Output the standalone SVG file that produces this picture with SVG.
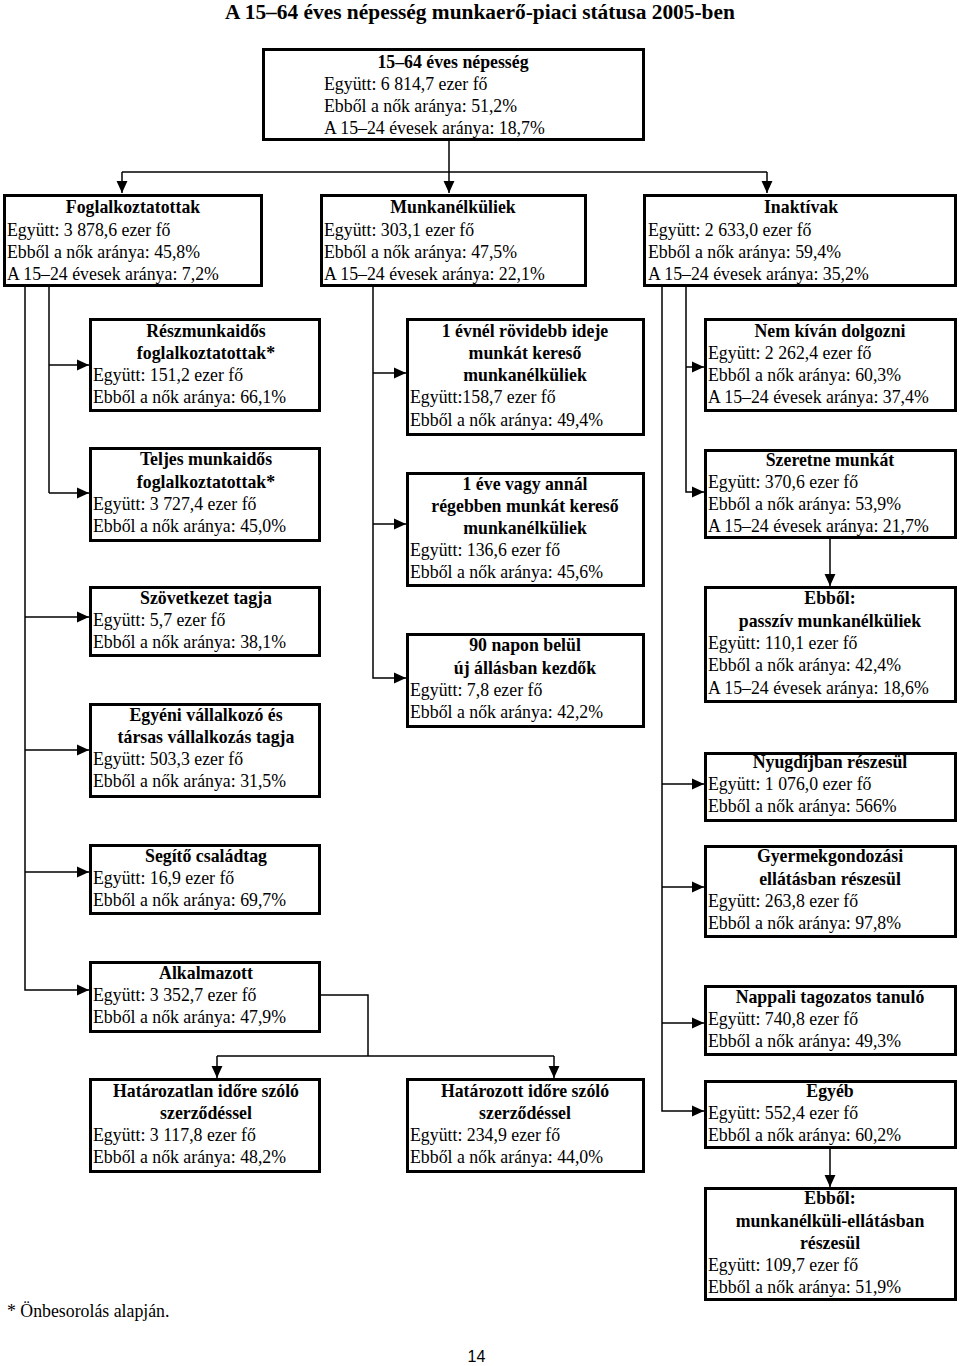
<svg xmlns="http://www.w3.org/2000/svg" width="960" height="1366" viewBox="0 0 960 1366">
<style>
.bg{fill:#fff}
.box{fill:#fff;stroke:#000;stroke-width:3}
text{font-family:"Liberation Serif","Times New Roman",serif;font-size:17.8px;fill:#000}
.h{font-weight:bold;text-anchor:middle}
.title{font-weight:bold;font-size:21.4px;text-anchor:middle}
.pg{font-family:"Liberation Sans",Arial,sans-serif;font-size:16px;text-anchor:middle}
#connectors path{fill:none;stroke:#000;stroke-width:1.5}
#connectors path.a{marker-end:url(#arr)}
</style>
<defs>
<marker id="arr" markerUnits="userSpaceOnUse" markerWidth="12" markerHeight="12" refX="11" refY="5" orient="auto" viewBox="0 0 11 10">
<path d="M0,0 L11,5 L0,10 z" fill="#000"/>
</marker>
</defs>
<rect class="bg" x="0" y="0" width="960" height="1366"/>
<text class="title" x="480" y="19">A 15–64 éves népesség munkaerő-piaci státusa 2005-ben</text>

<g id="connectors">
<path class="a" d="M449,141 V193"/>
<path d="M122,172 H767"/>
<path class="a" d="M122,172 V193"/>
<path class="a" d="M767,172 V193"/>
<path d="M49,287 V493"/>
<path class="a" d="M49,365 H89"/>
<path class="a" d="M49,493 H89"/>
<path class="a" d="M25,287 V990 H89"/>
<path class="a" d="M25,617 H89"/>
<path class="a" d="M25,750 H89"/>
<path class="a" d="M25,872 H89"/>
<path d="M321,995 H368 V1056"/>
<path d="M217,1056 H554"/>
<path class="a" d="M217,1056 V1078"/>
<path class="a" d="M554,1056 V1078"/>
<path class="a" d="M373,287 V678 H406"/>
<path class="a" d="M373,373 H406"/>
<path class="a" d="M373,524 H406"/>
<path class="a" d="M686,287 V492 H704"/>
<path class="a" d="M686,367 H704"/>
<path class="a" d="M662,287 V1111 H704"/>
<path class="a" d="M662,784 H704"/>
<path class="a" d="M662,887 H704"/>
<path class="a" d="M662,1023 H704"/>
<path class="a" d="M830,539 V586"/>
<path class="a" d="M830,1149 V1187"/>
</g>

<g id="n-nepesseg">
<rect class="box" x="263.5" y="49.5" width="380" height="90"/>
<text class="h" x="453" y="68">15–64 éves népesség</text>
<text x="324" y="90">Együtt: 6 814,7 ezer fő</text>
<text x="324" y="112">Ebből a nők aránya: 51,2%</text>
<text x="324" y="134">A 15–24 évesek aránya: 18,7%</text>
</g>

<g id="n-foglalkoztatottak">
<rect class="box" x="4.5" y="195.5" width="257" height="90"/>
<text class="h" x="133" y="213">Foglalkoztatottak</text>
<text x="7" y="236">Együtt: 3 878,6 ezer fő</text>
<text x="7" y="258">Ebből a nők aránya: 45,8%</text>
<text x="7" y="280">A 15–24 évesek aránya: 7,2%</text>
</g>

<g id="n-munkanelkuliek">
<rect class="box" x="321.5" y="195.5" width="264" height="90"/>
<text class="h" x="453" y="213">Munkanélküliek</text>
<text x="324" y="236">Együtt: 303,1 ezer fő</text>
<text x="324" y="258">Ebből a nők aránya: 47,5%</text>
<text x="324" y="280">A 15–24 évesek aránya: 22,1%</text>
</g>

<g id="n-inaktivak">
<rect class="box" x="644.5" y="195.5" width="311" height="90"/>
<text class="h" x="801" y="213">Inaktívak</text>
<text x="648" y="236">Együtt: 2 633,0 ezer fő</text>
<text x="648" y="258">Ebből a nők aránya: 59,4%</text>
<text x="648" y="280">A 15–24 évesek aránya: 35,2%</text>
</g>

<g id="n-reszmunkaidos">
<rect class="box" x="90.5" y="319.5" width="229" height="91"/>
<text class="h" x="206" y="337">Részmunkaidős</text>
<text class="h" x="206" y="359">foglalkoztatottak*</text>
<text x="93" y="381">Együtt: 151,2 ezer fő</text>
<text x="93" y="403">Ebből a nők aránya: 66,1%</text>
</g>

<g id="n-teljes">
<rect class="box" x="90.5" y="448.5" width="229" height="92"/>
<text class="h" x="206" y="465">Teljes munkaidős</text>
<text class="h" x="206" y="488">foglalkoztatottak*</text>
<text x="93" y="510">Együtt: 3 727,4 ezer fő</text>
<text x="93" y="532">Ebből a nők aránya: 45,0%</text>
</g>

<g id="n-szovetkezet">
<rect class="box" x="90.5" y="587.5" width="229" height="68"/>
<text class="h" x="206" y="604">Szövetkezet tagja</text>
<text x="93" y="626">Együtt: 5,7 ezer fő</text>
<text x="93" y="648">Ebből a nők aránya: 38,1%</text>
</g>

<g id="n-egyeni">
<rect class="box" x="90.5" y="704.5" width="229" height="92"/>
<text class="h" x="206" y="721">Egyéni vállalkozó és</text>
<text class="h" x="206" y="743">társas vállalkozás tagja</text>
<text x="93" y="765">Együtt: 503,3 ezer fő</text>
<text x="93" y="787">Ebből a nők aránya: 31,5%</text>
</g>

<g id="n-segito">
<rect class="box" x="90.5" y="845.5" width="229" height="68"/>
<text class="h" x="206" y="862">Segítő családtag</text>
<text x="93" y="884">Együtt: 16,9 ezer fő</text>
<text x="93" y="906">Ebből a nők aránya: 69,7%</text>
</g>

<g id="n-alkalmazott">
<rect class="box" x="90.5" y="962.5" width="229" height="69"/>
<text class="h" x="206" y="979">Alkalmazott</text>
<text x="93" y="1001">Együtt: 3 352,7 ezer fő</text>
<text x="93" y="1023">Ebből a nők aránya: 47,9%</text>
</g>

<g id="n-hatarozatlan">
<rect class="box" x="90.5" y="1079.5" width="229" height="92"/>
<text class="h" x="206" y="1097">Határozatlan időre szóló</text>
<text class="h" x="206" y="1119">szerződéssel</text>
<text x="93" y="1141">Együtt: 3 117,8 ezer fő</text>
<text x="93" y="1163">Ebből a nők aránya: 48,2%</text>
</g>

<g id="n-hatarozott">
<rect class="box" x="407.5" y="1079.5" width="236" height="92"/>
<text class="h" x="525" y="1097">Határozott időre szóló</text>
<text class="h" x="525" y="1119">szerződéssel</text>
<text x="410" y="1141">Együtt: 234,9 ezer fő</text>
<text x="410" y="1163">Ebből a nők aránya: 44,0%</text>
</g>

<g id="n-1evnel">
<rect class="box" x="407.5" y="319.5" width="236" height="115"/>
<text class="h" x="525" y="337">1 évnél rövidebb ideje</text>
<text class="h" x="525" y="359">munkát kereső</text>
<text class="h" x="525" y="381">munkanélküliek</text>
<text x="410" y="403">Együtt:158,7 ezer fő</text>
<text x="410" y="426">Ebből a nők aránya: 49,4%</text>
</g>

<g id="n-1eve">
<rect class="box" x="407.5" y="473.5" width="236" height="112"/>
<text class="h" x="525" y="490">1 éve vagy annál</text>
<text class="h" x="525" y="512">régebben munkát kereső</text>
<text class="h" x="525" y="534">munkanélküliek</text>
<text x="410" y="556">Együtt: 136,6 ezer fő</text>
<text x="410" y="578">Ebből a nők aránya: 45,6%</text>
</g>

<g id="n-90napon">
<rect class="box" x="407.5" y="634.5" width="236" height="92"/>
<text class="h" x="525" y="651">90 napon belül</text>
<text class="h" x="525" y="674">új állásban kezdők</text>
<text x="410" y="696">Együtt: 7,8 ezer fő</text>
<text x="410" y="718">Ebből a nők aránya: 42,2%</text>
</g>

<g id="n-nemkivan">
<rect class="box" x="705.5" y="319.5" width="250" height="91"/>
<text class="h" x="830" y="337">Nem kíván dolgozni</text>
<text x="708" y="359">Együtt: 2 262,4 ezer fő</text>
<text x="708" y="381">Ebből a nők aránya: 60,3%</text>
<text x="708" y="403">A 15–24 évesek aránya: 37,4%</text>
</g>

<g id="n-szeretne">
<rect class="box" x="705.5" y="450.5" width="250" height="87"/>
<text class="h" x="830" y="466">Szeretne munkát</text>
<text x="708" y="488">Együtt: 370,6 ezer fő</text>
<text x="708" y="510">Ebből a nők aránya: 53,9%</text>
<text x="708" y="532">A 15–24 évesek aránya: 21,7%</text>
</g>

<g id="n-passziv">
<rect class="box" x="705.5" y="587.5" width="250" height="114"/>
<text class="h" x="830" y="604">Ebből:</text>
<text class="h" x="830" y="627">passzív munkanélküliek</text>
<text x="708" y="649">Együtt: 110,1 ezer fő</text>
<text x="708" y="671">Ebből a nők aránya: 42,4%</text>
<text x="708" y="694">A 15–24 évesek aránya: 18,6%</text>
</g>

<g id="n-nyugdij">
<rect class="box" x="705.5" y="753.5" width="250" height="67"/>
<text class="h" x="830" y="768">Nyugdíjban részesül</text>
<text x="708" y="790">Együtt: 1 076,0 ezer fő</text>
<text x="708" y="812">Ebből a nők aránya: 566%</text>
</g>

<g id="n-gyermek">
<rect class="box" x="705.5" y="846.5" width="250" height="90"/>
<text class="h" x="830" y="862">Gyermekgondozási</text>
<text class="h" x="830" y="885">ellátásban részesül</text>
<text x="708" y="907">Együtt: 263,8 ezer fő</text>
<text x="708" y="929">Ebből a nők aránya: 97,8%</text>
</g>

<g id="n-nappali">
<rect class="box" x="705.5" y="986.5" width="250" height="68"/>
<text class="h" x="830" y="1003">Nappali tagozatos tanuló</text>
<text x="708" y="1025">Együtt: 740,8 ezer fő</text>
<text x="708" y="1047">Ebből a nők aránya: 49,3%</text>
</g>

<g id="n-egyeb">
<rect class="box" x="705.5" y="1081.5" width="250" height="66"/>
<text class="h" x="830" y="1097">Egyéb</text>
<text x="708" y="1119">Együtt: 552,4 ezer fő</text>
<text x="708" y="1141">Ebből a nők aránya: 60,2%</text>
</g>

<g id="n-ellatas">
<rect class="box" x="705.5" y="1188.5" width="250" height="111"/>
<text class="h" x="830" y="1204">Ebből:</text>
<text class="h" x="830" y="1227">munkanélküli-ellátásban</text>
<text class="h" x="830" y="1249">részesül</text>
<text x="708" y="1271">Együtt: 109,7 ezer fő</text>
<text x="708" y="1293">Ebből a nők aránya: 51,9%</text>
</g>

<text x="7" y="1317">* Önbesorolás alapján.</text>
<text class="pg" x="476.5" y="1362">14</text>
</svg>
